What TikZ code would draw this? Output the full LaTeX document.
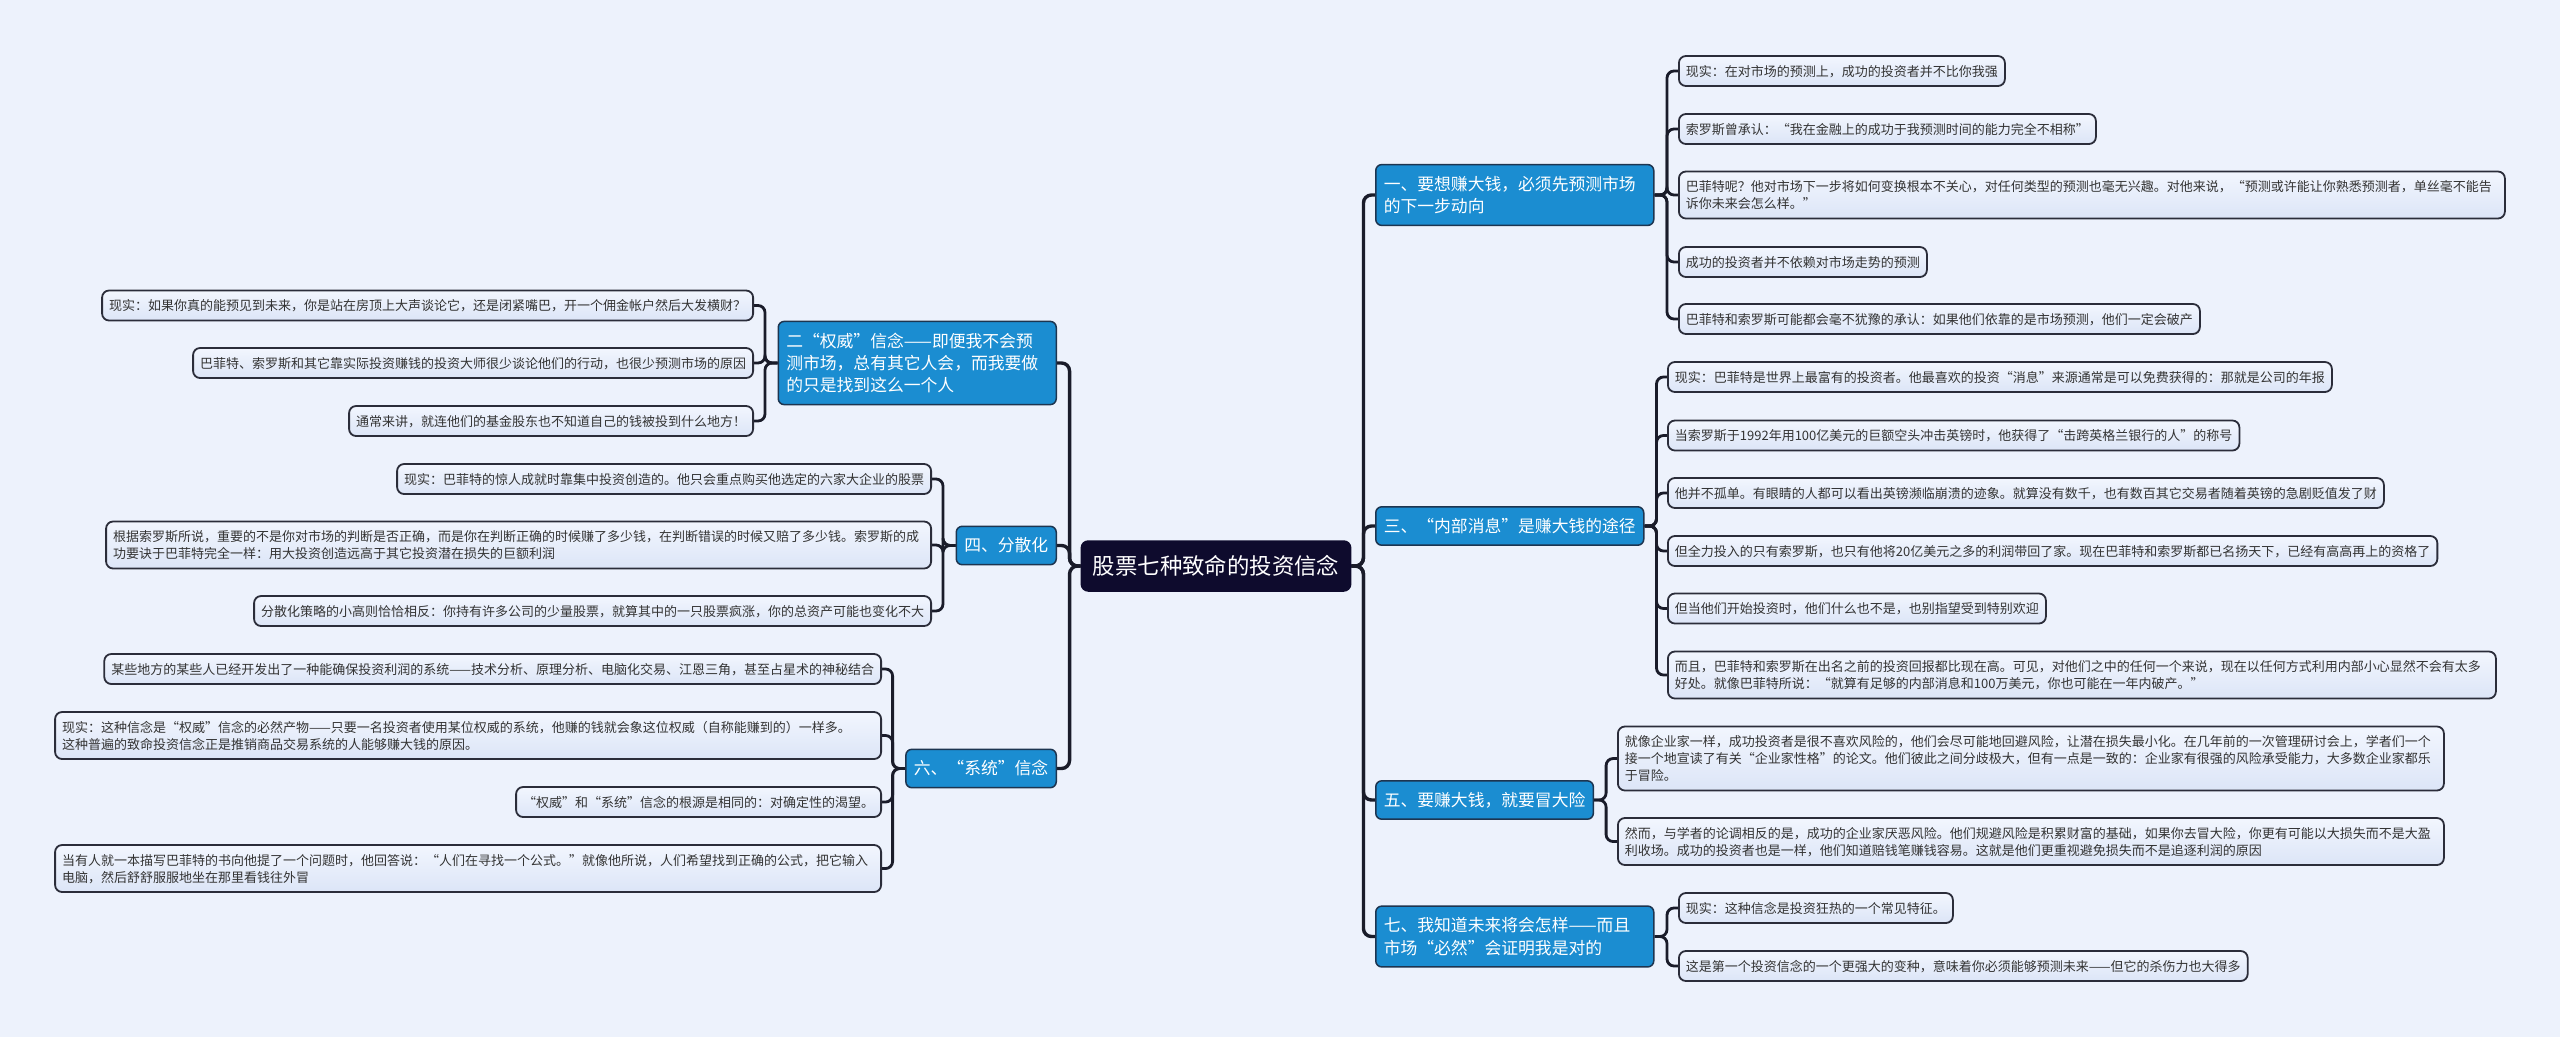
\documentclass[tikz,border=0pt]{standalone}
\usepackage{fontspec}
\setmainfont{Noto Sans CJK SC}
\usetikzlibrary{calc}
\pgfdeclarelayer{back}
\pgfsetlayers{back,main}
\definecolor{bgc}{HTML}{EDF2FC}
\definecolor{leaftop}{HTML}{F2F6FE}
\definecolor{leafbot}{HTML}{DCE5F7}
\definecolor{leafline}{HTML}{2B2D3A}
\definecolor{branchfill}{HTML}{1B8DD1}
\definecolor{branchline}{HTML}{1D3550}
\definecolor{rootfill}{HTML}{0E0B2D}
\definecolor{connc}{HTML}{1A1C2A}
\definecolor{leaftext}{HTML}{333333}
\newcommand\lstr{\rule[-3.5pt]{0pt}{17pt}}
\newcommand\bstr{\rule[-4.8pt]{0pt}{22.4pt}}
\newcommand\rstr{\rule[-6.5pt]{0pt}{30pt}}
\tikzset{
  leaf/.style={draw=leafline, line width=1.8pt, rounded corners=7pt,
    top color=leaftop, bottom color=leafbot, inner xsep=7pt, inner ysep=6.5pt,
    font=\fontsize{13}{17}\selectfont, text=leaftext,
    execute at begin node=\lstr, execute at end node=\lstr},
  wide/.style={text width=812pt, align=left},
  branch/.style={draw=branchline, line width=1.5pt, rounded corners=6pt,
    fill=branchfill, text=white, inner xsep=8pt, inner ysep=8pt,
    font=\fontsize{16.8}{22.4}\selectfont,
    execute at begin node=\bstr, execute at end node=\bstr},
  bwide/.style={text width=262pt, align=left},
  root/.style={draw=rootfill, line width=1.5pt, rounded corners=7pt,
    fill=rootfill, text=white, inner xsep=11.5pt, inner ysep=10pt,
    font=\fontsize{22.4}{30}\selectfont,
    execute at begin node=\rstr},
  link/.style={draw=connc, line width=2.8pt, rounded corners=7pt},
  trunk/.style={draw=connc, line width=3.4pt, rounded corners=8pt},
}
\begin{document}
\begin{tikzpicture}[x=1pt,y=-1pt]
\useasboundingbox (0,0) rectangle (2560,1037);
\begin{pgfonlayer}{back}
\fill[bgc] (0,0) rectangle (2560,1037);
\end{pgfonlayer}

% root
\node[root] (c) at (1216,566) {股票七种致命的投资信念};

% right branches
\node[branch,bwide,anchor=west] (b1) at (1375,195) {一、要想赚大钱，必须先预测市场\\的下一步动向};
\node[branch,anchor=west] (b3) at (1375,526) {三、“内部消息”是赚大钱的途径};
\node[branch,anchor=west] (b5) at (1375,800) {五、要赚大钱，就要冒大险};
\node[branch,bwide,anchor=west] (b7) at (1375,936.5) {七、我知道未来将会怎样——而且\\市场“必然”会证明我是对的};

% left branches
\node[branch,bwide,anchor=east] (b2) at (1057,363) {二“权威”信念——即便我不会预\\测市场，总有其它人会，而我要做\\的只是找到这么一个人};
\node[branch,anchor=east] (b4) at (1057,545.5) {四、分散化};
\node[branch,anchor=east] (b6) at (1057,768.5) {六、“系统”信念};

% leaves of b1
\node[leaf,anchor=west] (r1a) at (1678,71) {现实：在对市场的预测上，成功的投资者并不比你我强};
\node[leaf,anchor=west] (r1b) at (1678,129) {索罗斯曾承认：“我在金融上的成功于我预测时间的能力完全不相称”};
\node[leaf,wide,anchor=west] (r1c) at (1678,195) {巴菲特呢？他对市场下一步将如何变换根本不关心，对任何类型的预测也毫无兴趣。对他来说，“预测或许能让你熟悉预测者，单丝毫不能告\\诉你未来会怎么样。”};
\node[leaf,anchor=west] (r1d) at (1678,262) {成功的投资者并不依赖对市场走势的预测};
\node[leaf,anchor=west] (r1e) at (1678,319) {巴菲特和索罗斯可能都会毫不犹豫的承认：如果他们依靠的是市场预测，他们一定会破产};

% leaves of b3
\node[leaf,anchor=west] (r3a) at (1667,377) {现实：巴菲特是世界上最富有的投资者。他最喜欢的投资“消息”来源通常是可以免费获得的：那就是公司的年报};
\node[leaf,anchor=west] (r3b) at (1667,435.5) {当索罗斯于1992年用100亿美元的巨额空头冲击英镑时，他获得了“击跨英格兰银行的人”的称号};
\node[leaf,anchor=west] (r3c) at (1667,493) {他并不孤单。有眼睛的人都可以看出英镑濒临崩溃的迹象。就算没有数千，也有数百其它交易者随着英镑的急剧贬值发了财};
\node[leaf,anchor=west] (r3d) at (1667,551) {但全力投入的只有索罗斯，也只有他将20亿美元之多的利润带回了家。现在巴菲特和索罗斯都已名扬天下，已经有高高再上的资格了};
\node[leaf,anchor=west] (r3e) at (1667,608.5) {但当他们开始投资时，他们什么也不是，也别指望受到特别欢迎};
\node[leaf,anchor=west,text width=814pt,align=left] (r3f) at (1667,675) {而且，巴菲特和索罗斯在出名之前的投资回报都比现在高。可见，对他们之中的任何一个来说，现在以任何方式利用内部小心显然不会有太多\\好处。就像巴菲特所说：“就算有足够的内部消息和100万美元，你也可能在一年内破产。”};

% leaves of b5
\node[leaf,wide,anchor=west] (r5a) at (1617,758.5) {就像企业家一样，成功投资者是很不喜欢风险的，他们会尽可能地回避风险，让潜在损失最小化。在几年前的一次管理研讨会上，学者们一个\\接一个地宣读了有关“企业家性格”的论文。他们彼此之间分歧极大，但有一点是一致的：企业家有很强的风险承受能力，大多数企业家都乐\\于冒险。};
\node[leaf,wide,anchor=west] (r5b) at (1617,841.5) {然而，与学者的论调相反的是，成功的企业家厌恶风险。他们规避风险是积累财富的基础，如果你去冒大险，你更有可能以大损失而不是大盈\\利收场。成功的投资者也是一样，他们知道赔钱笔赚钱容易。这就是他们更重视避免损失而不是追逐利润的原因};

% leaves of b7
\node[leaf,anchor=west] (r7a) at (1678,908) {现实：这种信念是投资狂热的一个常见特征。};
\node[leaf,anchor=west] (r7b) at (1678,966) {这是第一个投资信念的一个更强大的变种，意味着你必须能够预测未来——但它的杀伤力也大得多};

% leaves of b2
\node[leaf,anchor=east] (l1) at (754,305.5) {现实：如果你真的能预见到未来，你是站在房顶上大声谈论它，还是闭紧嘴巴，开一个佣金帐户然后大发横财？};
\node[leaf,anchor=east] (l2) at (754,363) {巴菲特、索罗斯和其它靠实际投资赚钱的投资大师很少谈论他们的行动，也很少预测市场的原因};
\node[leaf,anchor=east] (l3) at (754,421) {通常来讲，就连他们的基金股东也不知道自己的钱被投到什么地方！};

% leaves of b4
\node[leaf,anchor=east] (l4) at (932,479) {现实：巴菲特的惊人成就时靠集中投资创造的。他只会重点购买他选定的六家大企业的股票};
\node[leaf,anchor=east,text width=811pt,align=left] (l5) at (932,545) {根据索罗斯所说，重要的不是你对市场的判断是否正确，而是你在判断正确的时候赚了多少钱，在判断错误的时候又赔了多少钱。索罗斯的成\\功要诀于巴菲特完全一样：用大投资创造远高于其它投资潜在损失的巨额利润};
\node[leaf,anchor=east] (l6) at (932,611) {分散化策略的小高则恰恰相反：你持有许多公司的少量股票，就算其中的一只股票疯涨，你的总资产可能也变化不大};

% leaves of b6
\node[leaf,anchor=east] (l7) at (882,669) {某些地方的某些人已经开发出了一种能确保投资利润的系统——技术分析、原理分析、电脑化交易、江恩三角，甚至占星术的神秘结合};
\node[leaf,wide,anchor=east] (l8) at (882,735.5) {现实：这种信念是“权威”信念的必然产物——只要一名投资者使用某位权威的系统，他赚的钱就会象这位权威（自称能赚到的）一样多。\\这种普遍的致命投资信念正是推销商品交易系统的人能够赚大钱的原因。};
\node[leaf,anchor=east] (l9) at (882,802) {“权威”和“系统”信念的根源是相同的：对确定性的渴望。};
\node[leaf,wide,anchor=east] (l10) at (882,868.5) {当有人就一本描写巴菲特的书向他提了一个问题时，他回答说：“人们在寻找一个公式。”就像他所说，人们希望找到正确的公式，把它输入\\电脑，然后舒舒服服地坐在那里看钱往外冒};

\begin{pgfonlayer}{back}
% trunks
\foreach \b in {b1,b3,b5,b7} \draw[trunk] (c.east) -- ++(12,0) |- (\b.west);
\foreach \b in {b2,b4,b6} \draw[trunk] (c.west) -- ++(-11,0) |- (\b.east);
% right leaves
\foreach \l in {r1a,r1b,r1c,r1d,r1e} \draw[link] (b1.east) -- ++(12.5,0) |- (\l.west);
\foreach \l in {r3a,r3b,r3c,r3d,r3e,r3f} \draw[link] (b3.east) -- ++(12,0) |- (\l.west);
\foreach \l in {r5a,r5b} \draw[link] (b5.east) -- ++(12,0) |- (\l.west);
\foreach \l in {r7a,r7b} \draw[link] (b7.east) -- ++(12.5,0) |- (\l.west);
% left leaves
\foreach \l in {l1,l2,l3} \draw[link] (b2.west) -- ++(-12.5,0) |- (\l.east);
\foreach \l in {l4,l5,l6} \draw[link] (b4.west) -- ++(-12.5,0) |- (\l.east);
\foreach \l in {l7,l8,l9,l10} \draw[link] (b6.west) -- ++(-12.5,0) |- (\l.east);
\end{pgfonlayer}
\end{tikzpicture}
\end{document}
